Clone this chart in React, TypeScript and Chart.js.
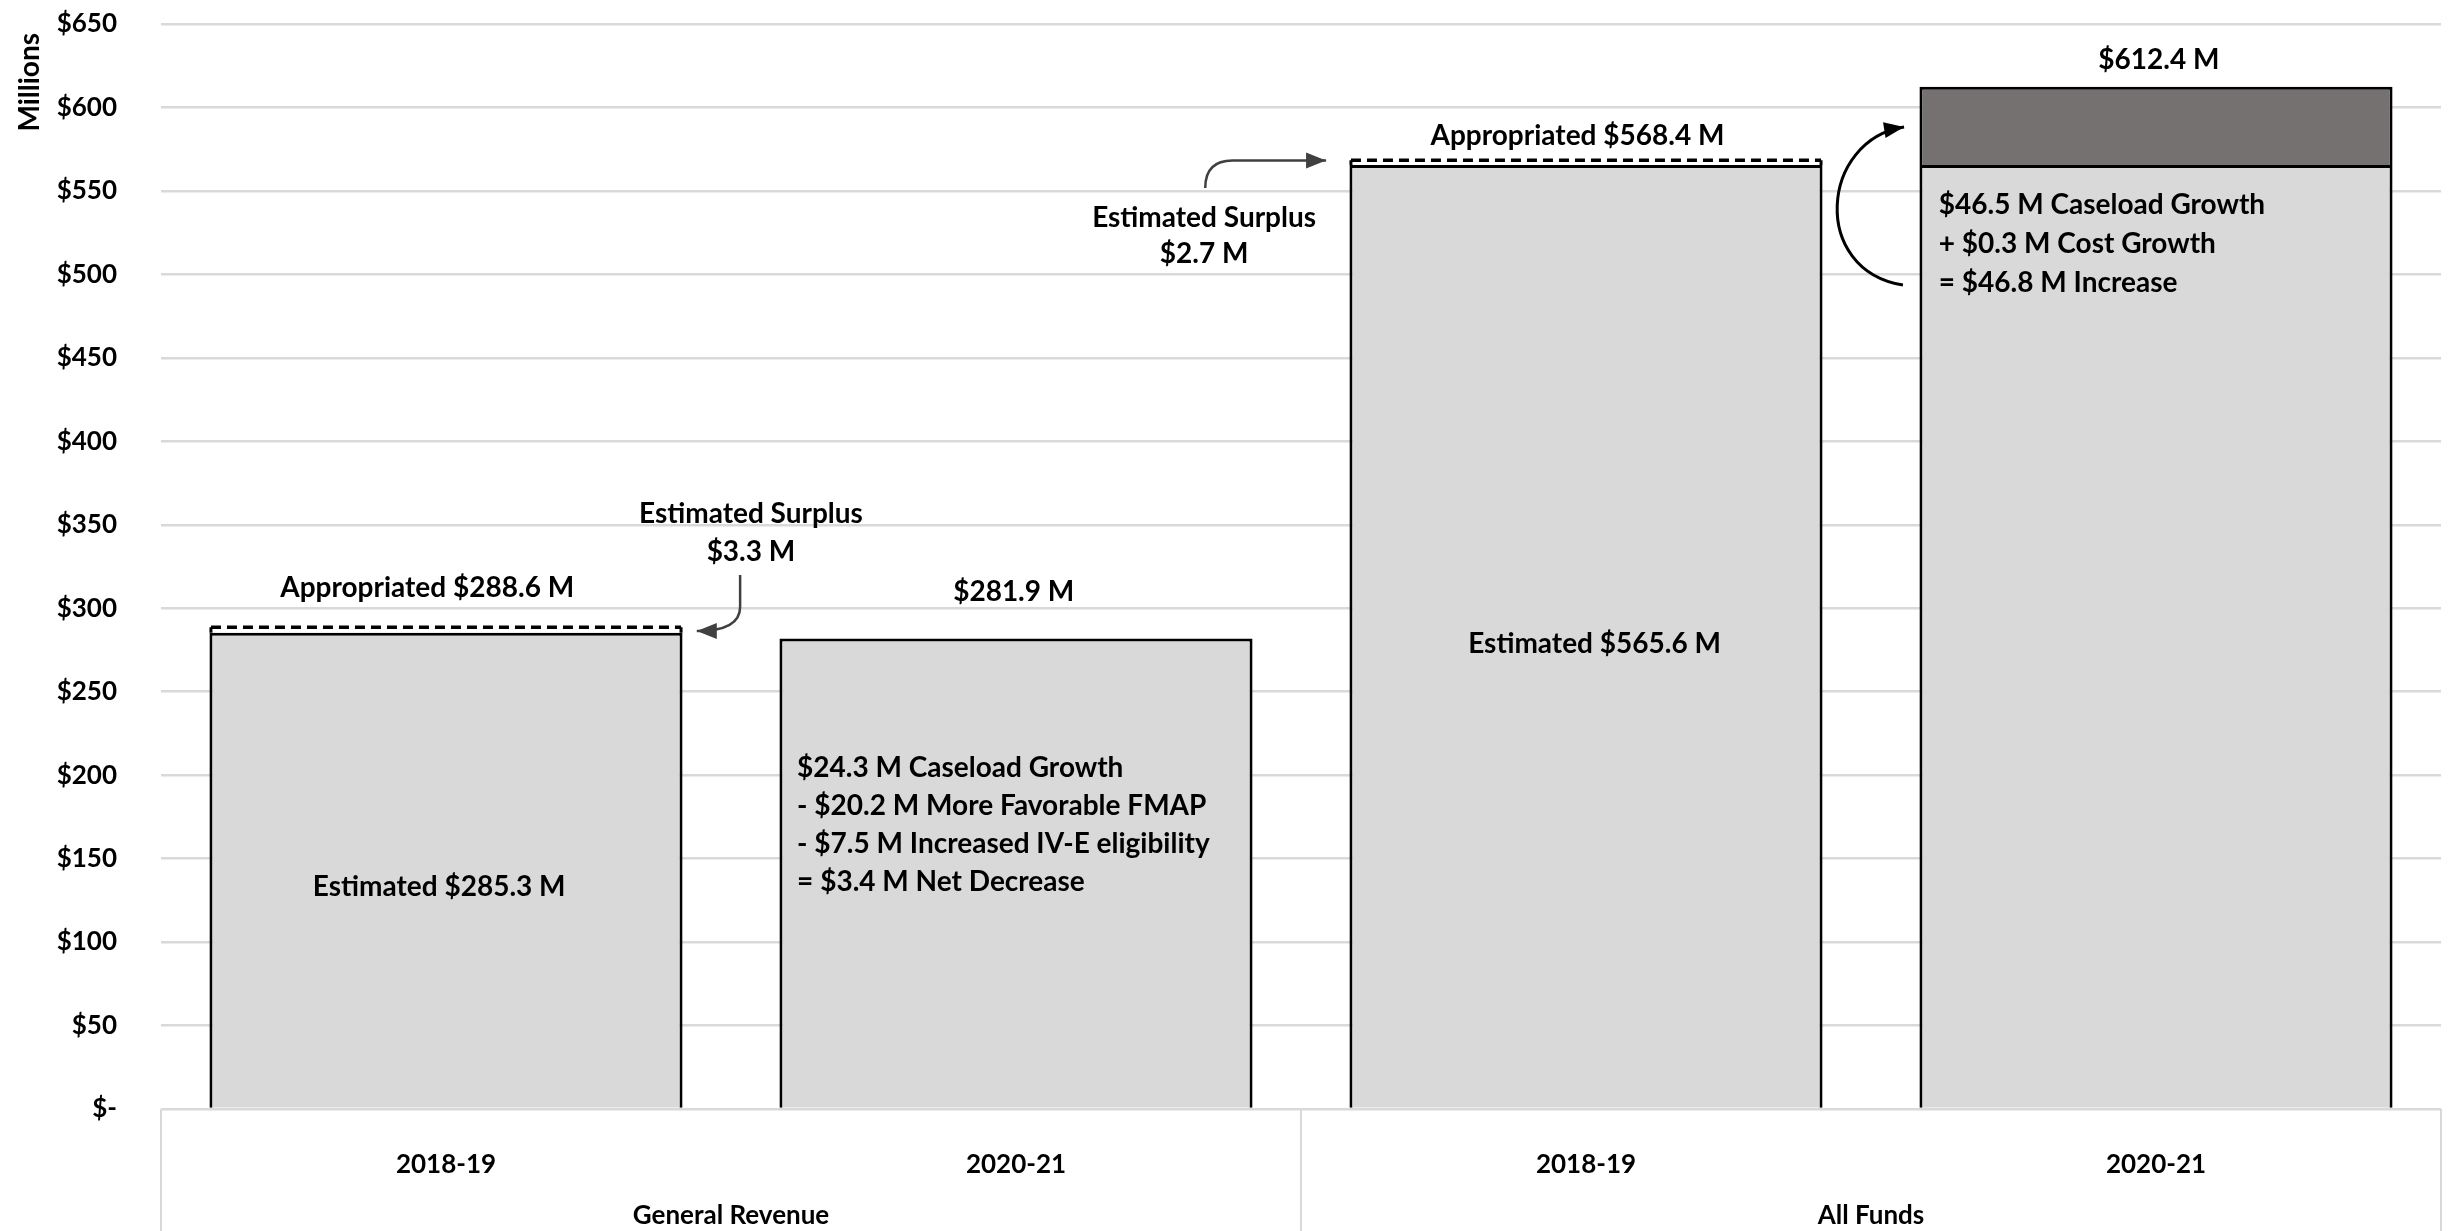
import React, { useEffect, useRef } from 'react';
import { Chart, registerables } from 'chart.js';

Chart.register(...registerables);

// ---------- data ----------
const categories = ['2018-19', '2020-21', '2018-19', '2020-21'];
const groups = ['General Revenue', 'All Funds'];
const estimated = [285.3, 281.9, 565.6, 565.6];
const increase: (number | null)[] = [null, null, null, 46.8];
const appropriated: (number | null)[] = [288.6, null, 568.4, null];
const yMin = 0;
const yMax = 650;
const yStep = 50;
const yTitle = 'Millions';

// annotation text (anchored in data units: x = category index, y = value)
const annotations = [
  { x: -0.033, y: 312, align: 'center', lh: 38, lines: ['Appropriated $288.6 M'] },
  { x: 0.535, y: 356.4, align: 'center', lh: 38, lines: ['Estimated Surplus', '$3.3 M'] },
  { x: -0.012, y: 133, align: 'center', lh: 38, lines: ['Estimated $285.3 M'] },
  { x: 0.996, y: 309.7, align: 'center', lh: 38, lines: ['$281.9 M'] },
  {
    x: 0.616, y: 204.3, align: 'left', lh: 38,
    lines: ['$24.3 M Caseload Growth', '- $20.2 M More Favorable FMAP', '- $7.5 M Increased IV-E eligibility', '= $3.4 M Net Decrease'],
  },
  { x: 1.33, y: 533.8, align: 'center', lh: 36, lines: ['Estimated Surplus', '$2.7 M'] },
  { x: 1.985, y: 582.9, align: 'center', lh: 38, lines: ['Appropriated $568.4 M'] },
  { x: 2.015, y: 278.6, align: 'center', lh: 38, lines: ['Estimated $565.6 M'] },
  { x: 3.005, y: 628.4, align: 'center', lh: 38, lines: ['$612.4 M'] },
  {
    x: 2.619, y: 541.6, align: 'left', lh: 39,
    lines: ['$46.5 M Caseload Growth', '+ $0.3 M Cost Growth', '= $46.8 M Increase'],
  },
];

// curved arrows (path in data units)
const arrows = [
  { color: '#404040', width: 2.5, path: [['M', 0.516, 319.9], ['L', 0.516, 300.8], ['Q', 0.516, 286.4, 0.44, 286.4]] },
  { color: '#404040', width: 2.5, path: [['M', 1.332, 551.8], ['Q', 1.332, 568.2, 1.38, 568.2], ['L', 1.544, 568.2]] },
  { color: '#000000', width: 3, path: [['M', 2.556, 493.6], ['C', 2.393, 502.6, 2.411, 580.5, 2.558, 588.3]] },
];

const FONT = 'Lato, "Noto Sans", sans-serif';

const overlayPlugin = {
  id: 'overlay',
  afterDatasetsDraw(chart: any) {
    const ctx = chart.ctx;
    const xs = chart.scales.x;
    const ys = chart.scales.y;
    const area = chart.chartArea;
    ctx.save();

    // appropriated dashed lines
    const meta = chart.getDatasetMeta(0);
    appropriated.forEach((v, i) => {
      if (v == null) return;
      const bar = meta.data[i];
      const x0 = bar.x - bar.width / 2;
      const x1 = bar.x + bar.width / 2;
      const y = ys.getPixelForValue(v);
      ctx.strokeStyle = '#000';
      ctx.lineWidth = 3.5;
      ctx.setLineDash([10, 6]);
      ctx.beginPath();
      ctx.moveTo(x0 + 1.5, y);
      ctx.lineTo(x1 - 1.5, y);
      ctx.stroke();
      ctx.setLineDash([]);
      ctx.lineWidth = 3;
      ctx.beginPath();
      ctx.moveTo(x0 + 1.5, y);
      ctx.lineTo(x0 + 1.5, bar.y);
      ctx.moveTo(x1 - 1.5, y);
      ctx.lineTo(x1 - 1.5, bar.y);
      ctx.stroke();
    });

    // arrows
    arrows.forEach((a) => {
      ctx.strokeStyle = a.color;
      ctx.fillStyle = a.color;
      ctx.lineWidth = a.width;
      ctx.setLineDash([]);
      ctx.beginPath();
      let prev: [number, number] = [0, 0];
      let last: [number, number] = [0, 0];
      a.path.forEach((seg: any[]) => {
        const P = (ix: number, iy: number): [number, number] => [xs.getPixelForValue(seg[ix]), ys.getPixelForValue(seg[iy])];
        if (seg[0] === 'M') {
          const p = P(1, 2); ctx.moveTo(p[0], p[1]); prev = p; last = p;
        } else if (seg[0] === 'L') {
          const p = P(1, 2); ctx.lineTo(p[0], p[1]); prev = last; last = p;
        } else if (seg[0] === 'Q') {
          const c = P(1, 2); const p = P(3, 4); ctx.quadraticCurveTo(c[0], c[1], p[0], p[1]); prev = c; last = p;
        } else if (seg[0] === 'C') {
          const c1 = P(1, 2); const c2 = P(3, 4); const p = P(5, 6);
          ctx.bezierCurveTo(c1[0], c1[1], c2[0], c2[1], p[0], p[1]); prev = c2; last = p;
        }
      });
      ctx.stroke();
      const ang = Math.atan2(last[1] - prev[1], last[0] - prev[0]);
      const len = 20;
      const hw = 8;
      ctx.beginPath();
      ctx.moveTo(last[0], last[1]);
      ctx.lineTo(last[0] - len * Math.cos(ang) + hw * Math.sin(ang), last[1] - len * Math.sin(ang) - hw * Math.cos(ang));
      ctx.lineTo(last[0] - len * Math.cos(ang) - hw * Math.sin(ang), last[1] - len * Math.sin(ang) + hw * Math.cos(ang));
      ctx.closePath();
      ctx.fill();
    });

    // annotation texts
    ctx.fillStyle = '#000';
    ctx.font = `bold 28px ${FONT}`;
    ctx.textBaseline = 'middle';
    annotations.forEach((an) => {
      const x = xs.getPixelForValue(an.x);
      const y = ys.getPixelForValue(an.y);
      ctx.textAlign = an.align;
      an.lines.forEach((t, i) => ctx.fillText(t, x, y + i * an.lh));
    });

    // y-axis title (rotated, top-aligned)
    ctx.save();
    ctx.translate(30, area.top + 9);
    ctx.rotate(-Math.PI / 2);
    ctx.font = `bold 28px ${FONT}`;
    ctx.textAlign = 'right';
    ctx.textBaseline = 'middle';
    ctx.fillText(yTitle, 0, 0);
    ctx.restore();

    // category group separators & labels
    const H = chart.height;
    ctx.strokeStyle = '#D9D9D9';
    ctx.lineWidth = 2;
    const sepX = [xs.left, xs.getPixelForValue(1.5), xs.right];
    ctx.beginPath();
    sepX.forEach((sx) => {
      ctx.moveTo(sx, area.bottom);
      ctx.lineTo(sx, H);
    });
    ctx.stroke();
    ctx.font = `bold 26px ${FONT}`;
    ctx.textAlign = 'center';
    ctx.textBaseline = 'middle';
    groups.forEach((g, gi) => {
      const gx = xs.getPixelForValue(gi * 2 + 0.5);
      ctx.fillText(g, gx, 1216);
    });
    ctx.restore();
  },
};

export default function App() {
  const ref = useRef<HTMLCanvasElement | null>(null);
  useEffect(() => {
    document.body.style.margin = '0';
    const chart = new Chart(ref.current as HTMLCanvasElement, {
      type: 'bar',
      data: {
        labels: categories,
        datasets: [
          {
            label: 'Estimated',
            data: estimated,
            backgroundColor: '#D9D9D9',
            borderColor: '#000000',
            borderWidth: 3,
            categoryPercentage: 1,
            barPercentage: 0.83,
          },
          {
            label: 'Increase',
            data: increase as any,
            backgroundColor: '#767171',
            borderColor: '#000000',
            borderWidth: 3,
            categoryPercentage: 1,
            barPercentage: 0.83,
          },
        ],
      },
      options: {
        animation: false,
        responsive: true,
        maintainAspectRatio: false,
        layout: { padding: { left: 0, right: 16, top: 24, bottom: 0 } },
        plugins: { legend: { display: false }, tooltip: { enabled: false } },
        scales: {
          x: {
            stacked: true,
            grid: { display: false },
            border: { display: false },
            ticks: { color: '#000', font: { family: FONT, weight: 'bold', size: 26 }, padding: 32 },
            afterFit: (s: any) => { s.height = 122; },
          },
          y: {
            stacked: true,
            min: yMin,
            max: yMax,
            grid: { color: '#D9D9D9', lineWidth: 2.5, drawTicks: false },
            border: { display: false },
            ticks: {
              stepSize: yStep,
              color: '#000',
              padding: 44,
              font: { family: FONT, weight: 'bold', size: 26 },
              callback: (v: any) => (Number(v) === 0 ? '$-' : '$' + v),
            },
            afterFit: (s: any) => {
              s.width = 161;
              s.paddingTop = 16;
              s.paddingBottom = 16;
            },
          },
        },
      },
      plugins: [overlayPlugin],
    });
    return () => chart.destroy();
  }, []);
  return (
    <div style={{ position: 'fixed', left: 0, top: 0, width: 2457, height: 1231, background: '#fff' }}>
      <canvas ref={ref} />
    </div>
  );
}
